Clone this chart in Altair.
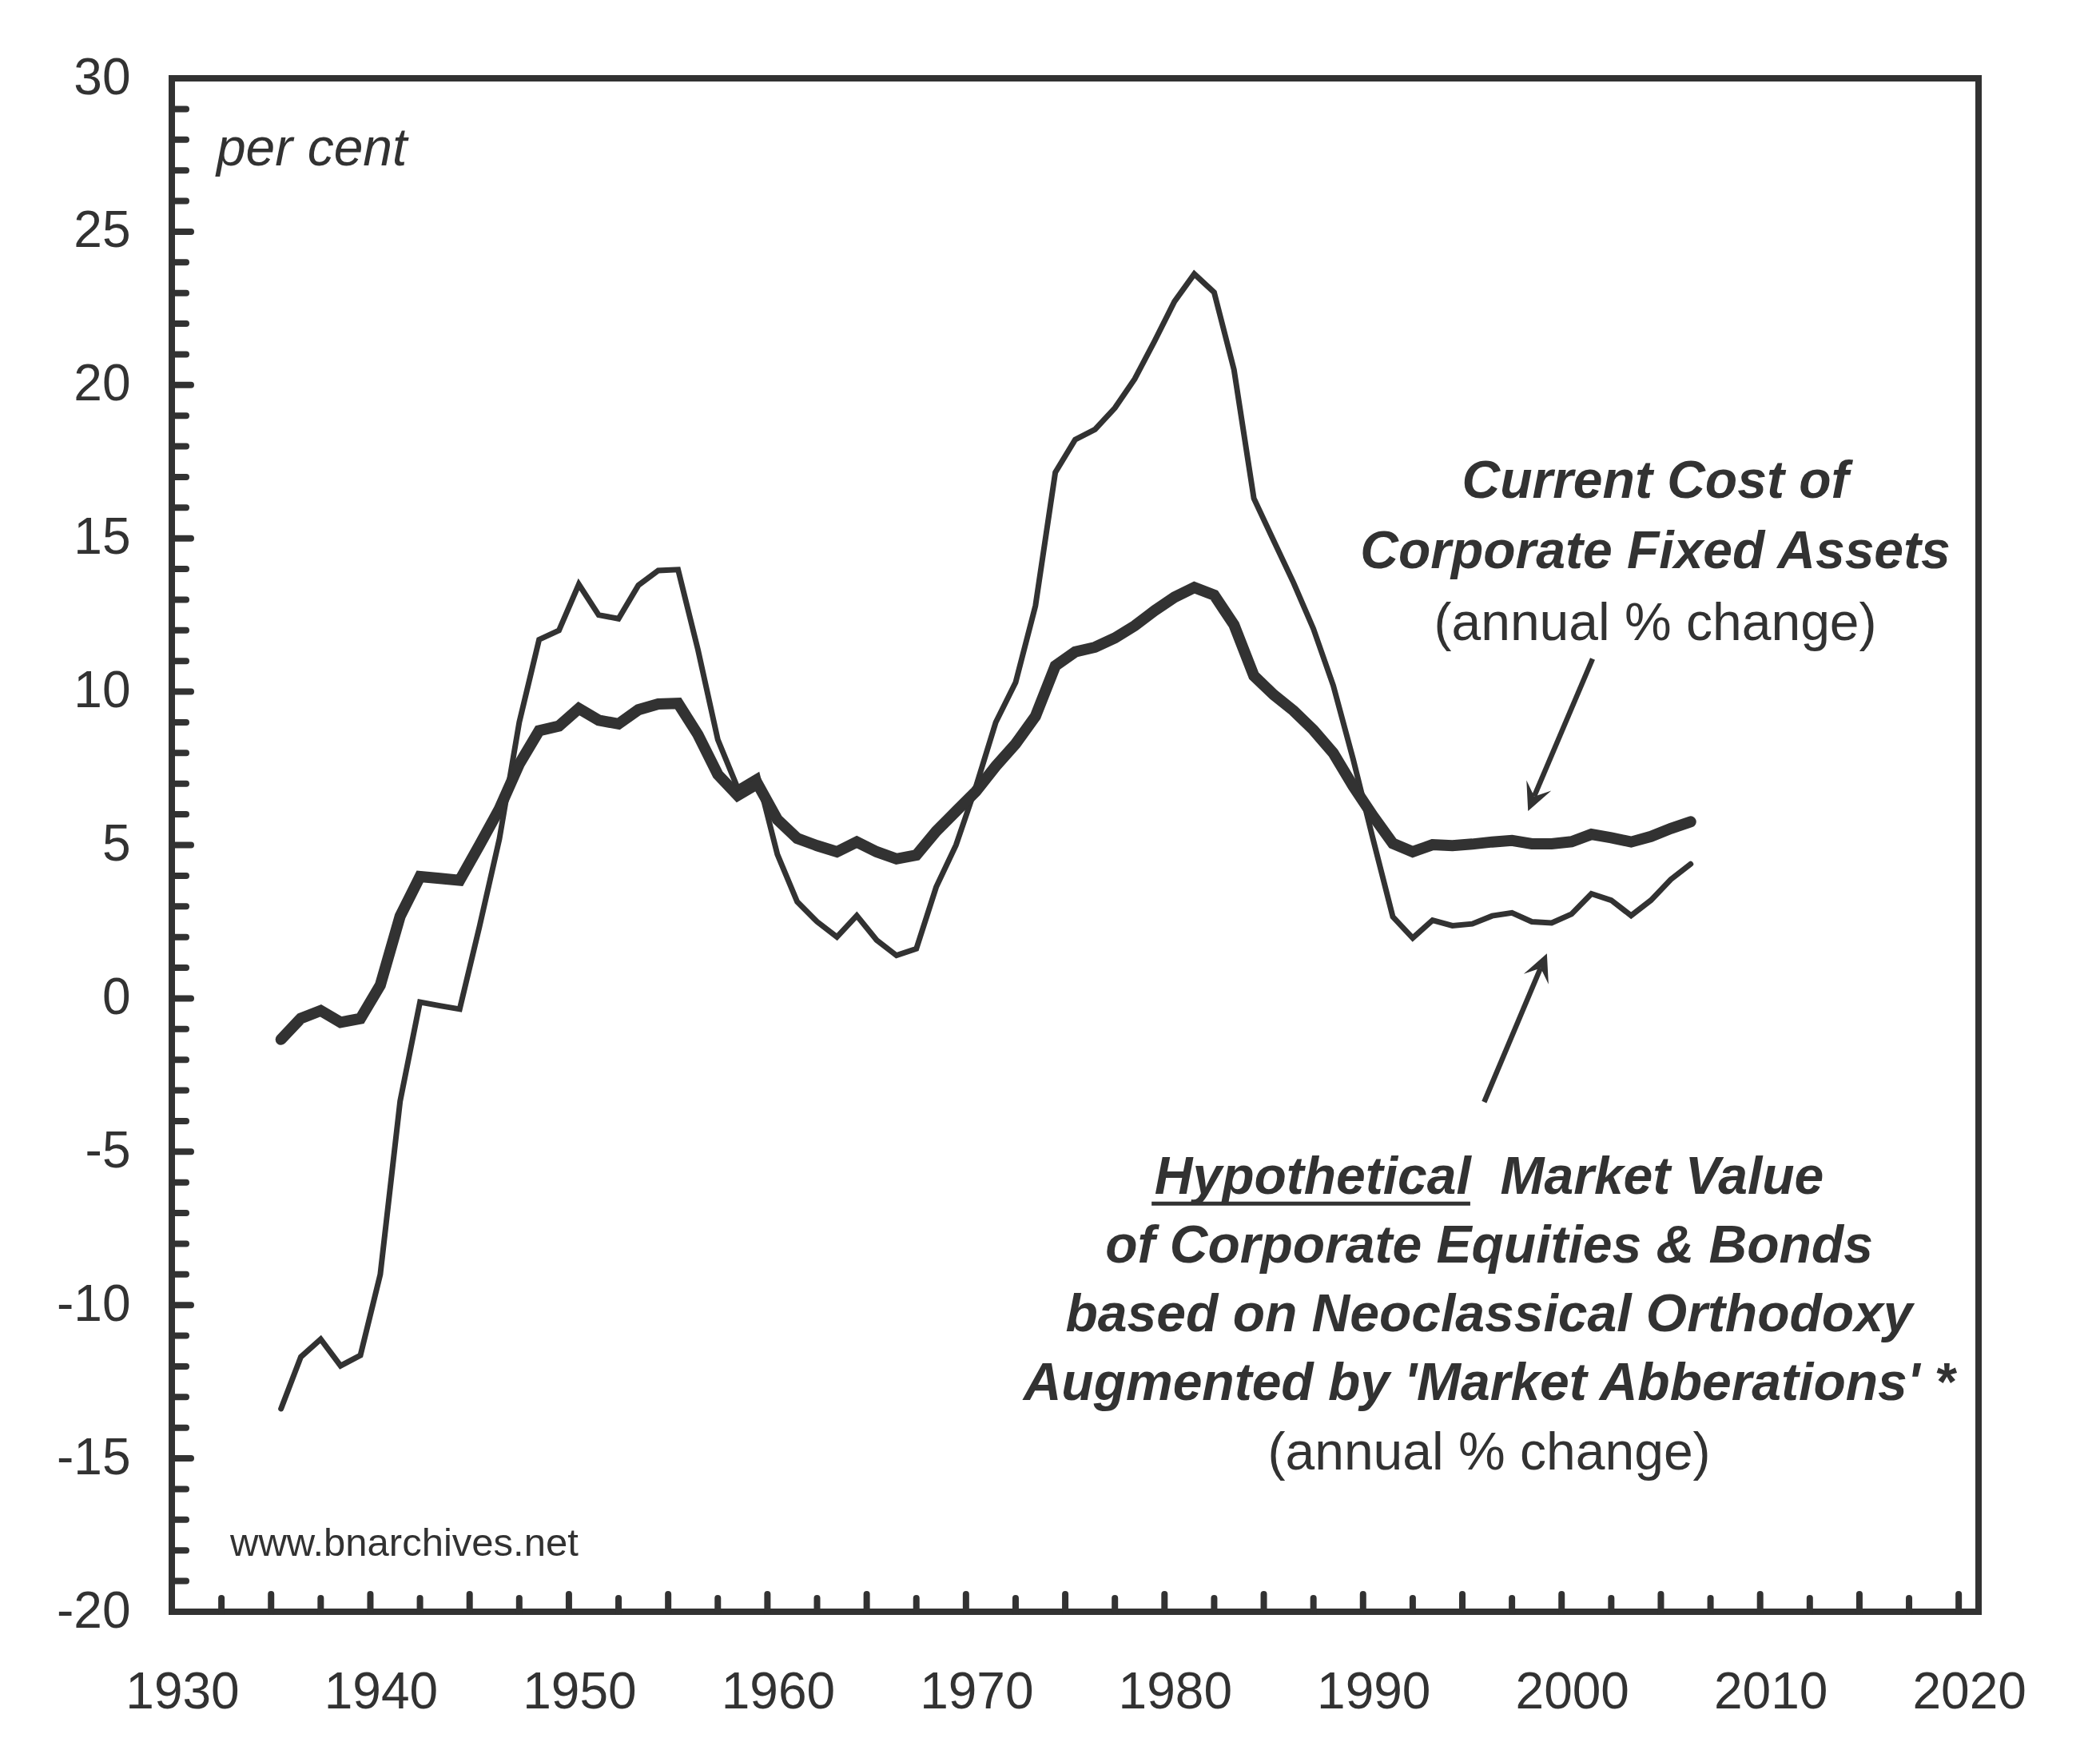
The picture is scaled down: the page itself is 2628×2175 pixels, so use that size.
import altair as alt
import pandas as pd

# ---------------- data ----------------
years = list(range(1935, 2007))

# thick line: Current Cost of Corporate Fixed Assets (annual % change)
fixed_assets = [
    -1.34, -0.65, -0.40, -0.78, -0.66, 0.43, 2.68, 3.97, 3.91, 3.85,
    5.00, 6.18, 7.64, 8.73, 8.88, 9.45, 9.07, 8.95, 9.41, 9.60,
    9.62, 8.60, 7.30, 6.62, 7.00, 5.83, 5.22, 4.98, 4.78, 5.10,
    4.78, 4.55, 4.67, 5.45, 6.10, 6.75, 7.57, 8.30, 9.20, 10.84,
    11.30, 11.45, 11.75, 12.15, 12.64, 13.08, 13.40, 13.15, 12.18, 10.52,
    9.90, 9.38, 8.75, 8.00, 6.92, 5.95, 5.05, 4.78, 5.01, 4.98,
    5.03, 5.10, 5.15, 5.04, 5.04, 5.11, 5.35, 5.24, 5.10, 5.28,
    5.54, 5.76,
]

# thin line: Hypothetical Market Value of Corporate Equities & Bonds
market_value = [
    -13.38, -11.69, -11.11, -11.98, -11.64, -9.00, -3.35, -0.12, -0.24, -0.35,
    2.35, 5.20, 9.00, 11.70, 12.00, 13.50, 12.50, 12.38, 13.47, 13.95,
    13.98, 11.37, 8.44, 6.86, 7.25, 4.70, 3.15, 2.50, 2.00, 2.70,
    1.90, 1.40, 1.62, 3.63, 5.00, 6.90, 9.00, 10.30, 12.80, 17.15,
    18.22, 18.55, 19.25, 20.20, 21.43, 22.72, 23.62, 23.02, 20.50, 16.30,
    14.92, 13.55, 12.05, 10.20, 7.80, 5.20, 2.66, 1.97, 2.55, 2.37,
    2.43, 2.69, 2.79, 2.50, 2.46, 2.75, 3.41, 3.20, 2.70, 3.20,
    3.88, 4.38,
]

x_labels = [1930, 1940, 1950, 1960, 1970, 1980, 1990, 2000, 2010, 2020]
y_labels = [-20, -15, -10, -5, 0, 5, 10, 15, 20, 25, 30]
x_major_ticks = [1935, 1940, 1945, 1950, 1955, 1960, 1965, 1970, 1975, 1980,
                 1985, 1990, 1995, 2000, 2005, 2010, 2015, 2020]
x_minor_ticks = [1932.5, 1937.5, 1942.5, 1947.5, 1952.5, 1957.5, 1962.5, 1967.5,
                 1972.5, 1977.5, 1982.5, 1987.5, 1992.5, 1997.5, 2002.5, 2007.5,
                 2012.5, 2017.5]
y_major_ticks = [-15, -10, -5, 0, 5, 10, 15, 20, 25]
y_minor_ticks = [v for v in range(-19, 30) if v % 5 != 0]

top_lines = ["Current Cost of", "Corporate Fixed Assets"]
top_lines_y = [16.84, 14.55]
top_sub_y = 12.20
top_x = 2004.72

bottom_lines = ["Hypothetical\u00a0 Market Value", "of Corporate Equities & Bonds",
                "based on Neoclassical Orthodoxy",
                "Augmented by 'Market Abberations' *"]
bottom_lines_y = [-5.85, -8.09, -10.33, -12.57]
bottom_sub_y = -14.84
bottom_x = 1996.35

underline = {"x": [1979.35], "x2": [1995.40], "y": [-6.69]}

arrow_shafts = {"x": [2001.56, 1996.10], "y": [11.07, -3.38],
                "x2": [1998.62, 1998.94], "y2": [6.59, 0.99]}
arrow_heads = {"x": [1998.31, 1999.26], "y": [6.11, 1.46], "angle": [203.0, 22.9]}

# ---------------- styling ----------------
INK = "#323232"
FONT = "Liberation Sans"
W, H = 2261, 1919

xs = alt.Scale(domain=[1930, 2021], nice=False, zero=False)
ys = alt.Scale(domain=[-20, 30], nice=False, zero=False)

x_axis = alt.Axis(values=x_labels, title=None, grid=False, domain=False, ticks=False,
                  tickSize=0, labelPadding=69, labelOffset=13, labelFontSize=64,
                  labelFont=FONT, labelColor=INK, labelAngle=0, labelFlush=False,
                  labelOverlap=False, labelExpr="'' + datum.value")
y_axis = alt.Axis(values=y_labels, title=None, grid=False, domain=False, ticks=False,
                  tickSize=0, labelPadding=52, labelFontSize=64, labelFont=FONT,
                  labelColor=INK, labelFlush=False, labelOverlap=False,
                  labelAlign="right", labelBaseline="middle",
                  labelExpr="'' + datum.value")


def X(field):
    return alt.X(field, type="quantitative", scale=xs, axis=x_axis)


def Y(field):
    return alt.Y(field, type="quantitative", scale=ys, axis=y_axis)


df = pd.DataFrame({"year": years, "fixed": fixed_assets, "market": market_value})
df["mid"] = df["year"] + 0.5  # annual values plotted at mid-year

thin = alt.Chart(df).mark_line(color=INK, strokeWidth=7, strokeCap="round").encode(
    x=X("mid"), y=Y("market"))
thick = alt.Chart(df).mark_line(color=INK, strokeWidth=14, strokeCap="round").encode(
    x=X("mid"), y=Y("fixed"))

# inward ticks
xt_maj = alt.Chart(pd.DataFrame({"t": x_major_ticks})).mark_rule(
    color=INK, strokeWidth=8, strokeCap="round").encode(
    x=X("t"), y=alt.value(H), y2=alt.value(H - 22))
xt_min = alt.Chart(pd.DataFrame({"t": x_minor_ticks})).mark_rule(
    color=INK, strokeWidth=8, strokeCap="round").encode(
    x=X("t"), y=alt.value(H), y2=alt.value(H - 17))
yt_maj = alt.Chart(pd.DataFrame({"t": y_major_ticks})).mark_rule(
    color=INK, strokeWidth=8, strokeCap="round").encode(
    y=Y("t"), x=alt.value(0), x2=alt.value(24))
yt_min = alt.Chart(pd.DataFrame({"t": y_minor_ticks})).mark_rule(
    color=INK, strokeWidth=8, strokeCap="round").encode(
    y=Y("t"), x=alt.value(0), x2=alt.value(18))

# texts
per_cent = alt.Chart(pd.DataFrame({"x": [1932.25], "y": [27.68], "t": ["per cent"]})).mark_text(
    font=FONT, fontSize=66, fontStyle="italic", color=INK, align="left", baseline="middle").encode(
    x=X("x"), y=Y("y"), text="t:N")
site = alt.Chart(pd.DataFrame({"x": [1932.94], "y": [-17.79], "t": ["www.bnarchives.net"]})).mark_text(
    font=FONT, fontSize=49, color=INK, align="left", baseline="middle").encode(
    x=X("x"), y=Y("y"), text="t:N")

top_bold = alt.Chart(pd.DataFrame({"x": [top_x] * len(top_lines), "y": top_lines_y, "t": top_lines})).mark_text(
    font=FONT, fontSize=66, fontStyle="italic", fontWeight="bold", color=INK,
    align="center", baseline="middle").encode(x=X("x"), y=Y("y"), text="t:N")
top_sub = alt.Chart(pd.DataFrame({"x": [top_x], "y": [top_sub_y], "t": ["(annual % change)"]})).mark_text(
    font=FONT, fontSize=66, color=INK, align="center", baseline="middle").encode(
    x=X("x"), y=Y("y"), text="t:N")
bot_bold = alt.Chart(pd.DataFrame({"x": [bottom_x] * len(bottom_lines), "y": bottom_lines_y, "t": bottom_lines})).mark_text(
    font=FONT, fontSize=66, fontStyle="italic", fontWeight="bold", color=INK,
    align="center", baseline="middle").encode(x=X("x"), y=Y("y"), text="t:N")
bot_sub = alt.Chart(pd.DataFrame({"x": [bottom_x], "y": [bottom_sub_y], "t": ["(annual % change)"]})).mark_text(
    font=FONT, fontSize=66, color=INK, align="center", baseline="middle").encode(
    x=X("x"), y=Y("y"), text="t:N")
ul = alt.Chart(pd.DataFrame(underline)).mark_rule(color=INK, strokeWidth=5).encode(
    x=X("x"), x2="x2:Q", y=Y("y"))

# arrows
shafts = alt.Chart(pd.DataFrame(arrow_shafts)).mark_rule(color=INK, strokeWidth=6.5).encode(
    x=X("x"), y=Y("y"), x2="x2:Q", y2="y2:Q")
heads = alt.Chart(pd.DataFrame(arrow_heads)).mark_point(
    shape="M0,0 L0.85,1.75 L0,1.0 L-0.85,1.75 Z", filled=True, size=1568,
    color=INK, opacity=1, strokeWidth=0).encode(
    x=X("x"), y=Y("y"), angle=alt.Angle("angle:Q", scale=None))

chart = alt.layer(
    xt_maj, xt_min, yt_maj, yt_min,
    thin, thick,
    per_cent, site, top_bold, top_sub, bot_bold, bot_sub, ul,
    shafts, heads,
).properties(
    width=W, height=H,
    autosize=alt.AutoSizeParams(type="none"),
    padding={"left": 215, "top": 98, "right": 152, "bottom": 158},
    background="white",
).configure_view(stroke=INK, strokeWidth=8)

chart.save("out.html", embed_options={"renderer": "svg", "actions": False})
